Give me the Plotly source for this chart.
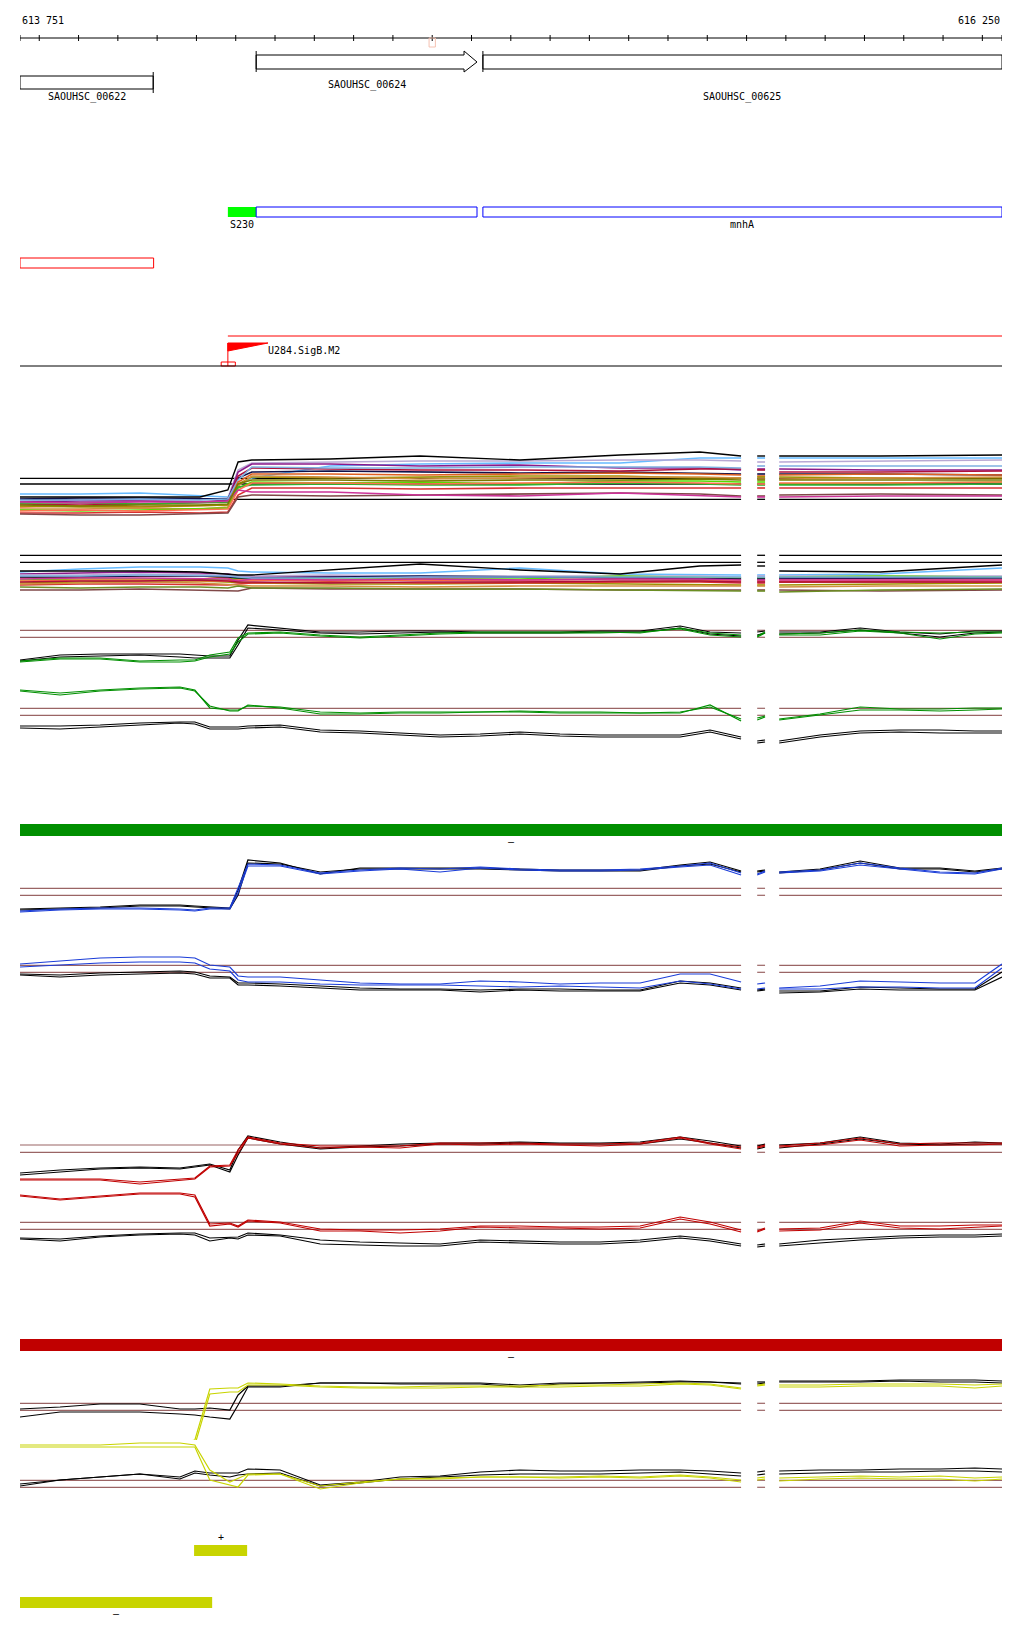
import plotly.graph_objects as go

N = None
W, H = 1024, 1640
VIEW = [613751, 616250]

# ---------------- annotation tracks (genome coordinates) ----------------
RULER_TICKS = [613751] + list(range(613800, 616201, 100)) + [616250]
RULER_MARK = [614792, 614808]
COORD_LABELS = ["613 751", "616 250"]

GENE_NAMES = ["SAOUHSC_00622", "SAOUHSC_00624", "SAOUHSC_00625"]
GENE_START = [613751, 614352, 614929]
GENE_END = [614090, 614914, 616250]
ARROW_HEAD_START = 614881

TX_NAMES = ["S230", "", "mnhA"]
TX_START = [614280, 614352, 614929]
TX_END = [614352, 614914, 616250]

REGION_START = [613751]
REGION_END = [614091]

PROMOTER_NAME = "U284.SigB.M2"
PROMOTER_POS = 614280
PROMOTER_FLAG_END = 614382
PROMOTER_SPAN_END = 616250
PROMOTER_BOX = [614263, 614299]

BAR_START = [613751, 613751, 614194, 613751]
BAR_END = [616250, 616250, 614329, 614240]
BAR_STRAND = ["–", "–", "+", "–"]

# ---------------- expression profiles ----------------
GRID_M = [613751, 613904, 614056, 614209, 614280, 614306, 614341, 614540, 614769, 615023,
          615278, 615481, 615586, 615606, 615627, 615647, 615665, 615683, 615940, 616250]
GRID_D = [613751, 613853, 613955, 614056, 614158, 614196, 614234, 614285, 614306, 614331,
          614413, 614515, 614616, 614718, 614820, 614922, 615023, 615125, 615227, 615329,
          615431, 615507, 615586, 615606, 615627, 615647, 615665, 615683, 615787, 615889,
          615990, 616092, 616181, 616250]
GAPS = [615606, 615665]

# section 1 (many conditions)
S1_COLORS = ["#000000", "#66bbff", "#b8a8d4", "#8b1a8b", "#101048", "#b0103a", "#7fb0e0",
             "#e06020", "#a09000", "#d09040", "#55dd00", "#30b030", "#d83030", "#ff7050",
             "#804848", "#cc3399", "#7a7a00"]
S1_SERIES = [
    [23, 23, 23, 23, 30, 58, 60, 61, 64, 60, 65, 68, 64, N, 64, 64, N, 64, 64, 65],
    [26, 26, 27, 24, 23, 35, 42, 54, 56, 57, 57, 62, 62, N, 62, 62, N, 62, 62, 62],
    [19, 20, 19, 20, 22, 50, 57, 58, 59, 59, 60, 60, 59, N, 58, 58, N, 58, 59, 60],
    [18, 19, 19, 18, 20, 48, 56, 56, 54, 55, 52, 52, 50, N, 51, 51, N, 51, 50, 50],
    [21, 22, 22, 21, 21, 42, 48, 49, 48, 47, 48, 47, 46, N, 46, 46, N, 46, 46, 45],
    [16, 15, 16, 17, 18, 44, 52, 51, 50, 50, 49, 51, 51, N, 50, 50, N, 48, 48, 49],
    [20, 20, 21, 20, 21, 40, 53, 52, 52, 53, 53, 53, 52, N, 54, 54, N, 54, 54, 54],
    [13, 14, 13, 14, 15, 38, 46, 46, 45, 46, 47, 46, 45, N, 44, 44, N, 45, 46, 45],
    [14, 13, 13, 14, 15, 36, 43, 42, 43, 44, 44, 42, 42, N, 43, 43, N, 43, 42, 42],
    [11, 11, 12, 11, 13, 34, 44, 43, 41, 42, 43, 43, 42, N, 41, 41, N, 41, 42, 43],
    [10, 9, 10, 11, 12, 32, 38, 37, 38, 36, 39, 39, 38, N, 38, 38, N, 36, 37, 38],
    [17, 17, 16, 17, 18, 33, 35, 36, 35, 35, 37, 36, 35, N, 35, 35, N, 35, 35, 36],
    [7, 7, 8, 7, 8, 25, 32, 32, 31, 32, 32, 32, 32, N, 32, 32, N, 32, 32, 32],
    [9, 10, 9, 10, 11, 30, 37, 37, 36, 37, 38, 37, 36, N, 36, 36, N, 37, 37, 38],
    [6, 5, 5, 6, 7, 23, 25, 24, 25, 26, 27, 26, 24, N, 24, 24, N, 25, 26, 25],
    [18, 17, 18, 18, 19, 30, 28, 28, 25, 24, 27, 24, 23, N, 23, 23, N, 23, 24, 24],
    [15, 14, 15, 15, 16, 36, 40, 40, 39, 40, 40, 41, 40, N, 40, 40, N, 40, 40, 40],
]
S1_REFS = [41.7, 36, 20.7]

# section 2
S2_COLORS = ["#000000", "#66bbff", "#8b1a8b", "#b8a8d4", "#e06020", "#a09000", "#55dd00",
             "#d83030", "#ff7050", "#101048", "#d09040", "#804848", "#6b8e23", "#cc3399",
             "#7fb0e0", "#b0103a"]
S2_SERIES = [
    [29, 29, 29, 28, 26, 25, 25, 30, 36, 30, 26, 34, 35, N, 34, 34, N, 29, 28, 35],
    [28, 31, 33, 33, 32, 29, 28, 27, 27, 32, 26, 25, 25, N, 25, 25, N, 25, 26, 32],
    [26, 27, 28, 27, 26, 24, 23, 23, 22, 23, 23, 22, 22, N, 22, 22, N, 21, 22, 23],
    [25, 25, 26, 25, 25, 24, 24, 25, 24, 24, 24, 24, 23, N, 24, 24, N, 24, 24, 24],
    [22, 23, 24, 24, 22, 20, 20, 19, 20, 19, 18, 19, 19, N, 19, 19, N, 18, 19, 20],
    [17, 18, 19, 19, 18, 18, 17, 16, 16, 17, 16, 15, 15, N, 15, 15, N, 15, 16, 17],
    [20, 21, 21, 20, 20, 22, 21, 21, 21, 21, 24, 23, 22, N, 22, 22, N, 23, 24, 23],
    [15, 16, 16, 15, 15, 16, 17, 18, 17, 17, 18, 18, 17, N, 17, 17, N, 18, 18, 18],
    [19, 20, 20, 19, 19, 20, 20, 20, 20, 20, 21, 20, 20, N, 20, 20, N, 20, 20, 20],
    [23, 23, 24, 24, 23, 22, 22, 23, 24, 23, 22, 21, 21, N, 21, 21, N, 22, 22, 22],
    [16, 17, 18, 17, 16, 15, 14, 14, 13, 14, 14, 14, 14, N, 14, 14, N, 13, 14, 14],
    [10, 10, 11, 10, 9, 9, 12, 11, 11, 11, 10, 10, 10, N, 10, 10, N, 10, 9, 10],
    [13, 12, 13, 13, 12, 14, 12, 12, 11, 11, 10, 9, 9, N, 9, 9, N, 8, 10, 11],
    [21, 22, 22, 21, 21, 19, 21, 20, 21, 20, 21, 21, 20, N, 20, 20, N, 20, 20, 20],
    [24, 24, 25, 24, 24, 23, 22, 22, 23, 23, 23, 23, 23, N, 23, 23, N, 23, 23, 23],
    [18, 19, 19, 20, 19, 18, 18, 17, 18, 18, 19, 19, 18, N, 18, 18, N, 18, 18, 18],
]
S2_REFS = [44.7, 37.7]

# green condition
GA_BLACK1 = [10, 15, 16, 16, 16, 15, 14, 14, 30, 45, 42, 38, 38, 39, 39, 38, 38, 38, 39, 39, 44, 38, 37, N, 38, 39, N, 38, 38, 42, 38, 36, 39, 39]
GA_BLACK2 = [9, 13, 14, 15, 13, 12, 12, 12, 25, 42, 40, 37, 36, 37, 38, 37, 37, 37, 38, 38, 42, 36, 34, N, 35, 37, N, 36, 37, 40, 37, 33, 37, 38]
GA_COL1 = [9, 12, 12, 9, 10, 10, 15, 18, 32, 37, 38, 35, 33, 35, 37, 38, 38, 38, 38, 37, 42, 37, 35, N, 34, 38, N, 36, 37, 40, 38, 37, 38, 38]
GA_COL2 = [8, 11, 11, 8, 8, 9, 13, 16, 28, 36, 37, 34, 32, 34, 36, 37, 37, 37, 37, 38, 41, 35, 33, N, 33, 37, N, 35, 35, 39, 37, 31, 36, 37]
GA_REFS = [39.7, 32.7]
GB_BLACK1 = [19, 19, 20, 22, 23, 23, 18, 18, 18, 19, 20, 15, 14, 12, 10, 11, 13, 11, 10, 10, 10, 15, 8, N, 4, 5, N, 4, 10, 14, 15, 15, 14, 14]
GB_BLACK2 = [17, 16, 18, 20, 22, 21, 16, 16, 16, 17, 18, 13, 12, 10, 8, 9, 11, 9, 8, 8, 8, 13, 6, N, 2, 3, N, 2, 8, 12, 13, 12, 12, 12]
GB_COL1 = [55, 52, 55, 57, 58, 55, 37, 35, 35, 39, 38, 33, 32, 33, 33, 33, 34, 33, 33, 32, 33, 38, 26, N, 27, 29, N, 26, 31, 38, 36, 36, 37, 37]
GB_COL2 = [54, 50, 54, 56, 57, 54, 39, 34, 34, 40, 37, 31, 31, 32, 32, 33, 33, 32, 32, 32, 32, 40, 24, N, 25, 28, N, 25, 30, 35, 35, 34, 35, 36]
GB_REFS = [36.7, 29.7]

# blue condition
BA_BLACK1 = [11, 12, 13, 15, 15, 14, 13, 12, 30, 60, 57, 46, 52, 52, 52, 52, 51, 50, 50, 50, 55, 58, 49, N, 49, 50, N, 48, 51, 59, 52, 52, 49, 52]
BA_BLACK2 = [10, 11, 12, 14, 14, 13, 12, 11, 25, 57, 56, 48, 51, 51, 51, 51, 50, 49, 49, 49, 54, 56, 48, N, 48, 49, N, 47, 50, 57, 51, 51, 48, 51]
BA_COL1 = [9, 11, 12, 12, 11, 10, 12, 12, 32, 56, 55, 47, 50, 52, 51, 53, 51, 50, 50, 51, 54, 57, 47, N, 46, 49, N, 48, 50, 57, 52, 48, 47, 52]
BA_COL2 = [8, 10, 11, 11, 10, 9, 11, 11, 27, 54, 54, 46, 49, 51, 48, 52, 50, 49, 49, 50, 53, 55, 45, N, 45, 48, N, 47, 49, 55, 51, 47, 46, 51]
BA_REFS = [31.7, 24.7]
BB_BLACK1 = [26, 25, 27, 28, 29, 28, 24, 23, 17, 17, 16, 14, 12, 11, 11, 10, 11, 11, 10, 10, 19, 17, 12, N, 10, 11, N, 9, 9, 13, 12, 11, 11, 28]
BB_BLACK2 = [25, 23, 25, 26, 27, 26, 22, 22, 15, 15, 14, 12, 10, 10, 10, 8, 10, 9, 9, 9, 17, 15, 10, N, 9, 10, N, 7, 8, 11, 10, 10, 10, 23]
BB_COL1 = [36, 39, 42, 43, 43, 42, 35, 33, 24, 23, 23, 20, 17, 16, 16, 19, 18, 16, 17, 17, 26, 26, 18, N, 16, 17, N, 12, 14, 19, 18, 17, 17, 36]
BB_COL2 = [33, 35, 37, 38, 38, 37, 31, 29, 20, 18, 18, 16, 15, 15, 15, 14, 13, 14, 13, 12, 19, 16, 11, N, 11, 12, N, 11, 11, 13, 13, 12, 12, 32]
BB_REFS = [34.7, 27.7]

# red condition
RA_BLACK1 = [17, 20, 22, 23, 22, 24, 26, 20, 40, 54, 48, 42, 44, 46, 47, 47, 48, 47, 47, 48, 53, 49, 44, N, 44, 46, N, 45, 47, 53, 47, 46, 48, 47]
RA_BLACK2 = [15, 18, 21, 22, 21, 23, 25, 18, 35, 52, 46, 41, 43, 44, 46, 46, 47, 46, 46, 46, 51, 47, 42, N, 41, 43, N, 42, 46, 51, 46, 45, 46, 46]
RA_COL1 = [11, 11, 11, 8, 11, 12, 24, 25, 40, 53, 47, 44, 44, 44, 47, 47, 47, 46, 46, 47, 53, 47, 43, N, 43, 45, N, 44, 47, 52, 46, 47, 47, 47]
RA_COL2 = [10, 10, 10, 6, 10, 11, 23, 24, 37, 52, 46, 42, 43, 42, 46, 45, 46, 45, 44, 46, 52, 46, 41, N, 42, 44, N, 43, 45, 50, 44, 45, 45, 46]
RA_REFS = [45, 37.7]
RB_BLACK1 = [12, 11, 14, 16, 17, 17, 12, 13, 13, 17, 15, 10, 8, 7, 6, 10, 9, 8, 8, 10, 14, 11, 6, N, 5, 6, N, 6, 10, 12, 14, 15, 15, 16]
RB_BLACK2 = [11, 9, 13, 15, 16, 15, 9, 12, 11, 15, 14, 6, 5, 4, 4, 8, 7, 6, 6, 8, 12, 9, 4, N, 3, 4, N, 4, 7, 10, 12, 13, 13, 14]
RB_COL1 = [55, 51, 54, 57, 57, 55, 26, 27, 24, 30, 28, 21, 20, 20, 21, 24, 24, 23, 23, 24, 33, 28, 20, N, 19, 22, N, 21, 22, 29, 24, 24, 25, 25]
RB_COL2 = [54, 50, 53, 56, 56, 53, 24, 26, 23, 29, 27, 19, 19, 17, 19, 23, 22, 22, 21, 22, 31, 26, 18, N, 18, 21, N, 19, 20, 27, 22, 21, 23, 24]
RB_REFS = [27.7, 20.7]

# yellow condition
YA_BLACK1 = [46, 48, 51, 51, 46, 46, 47, 45, 60, 69, 69, 72, 72, 72, 72, 72, 70, 72, 72, 73, 74, 73, 72, N, 73, 73, N, 74, 74, 74, 75, 75, 75, 74]
YA_BLACK2 = [38, 43, 43, 43, 41, 40, 38, 36, 50, 68, 68, 72, 72, 71, 71, 71, 68, 71, 72, 72, 73, 73, 71, N, 71, 72, N, 73, 73, 73, 74, 73, 73, 72]
YA_COL1 = [10, 10, 10, 12, 12, 15, 66, 67, 67, 72, 71, 69, 68, 68, 69, 69, 69, 70, 70, 71, 72, 71, 67, N, 70, 71, N, 70, 70, 71, 71, 71, 70, 71]
YA_COL2 = [8, 8, 8, 8, 8, 10, 61, 63, 63, 70, 70, 68, 67, 67, 67, 68, 68, 68, 69, 69, 71, 70, 66, N, 69, 70, N, 68, 68, 69, 69, 69, 67, 69]
YA_REFS = [51.7, 44.7]
YB_BLACK1 = [16, 20, 23, 26, 23, 29, 27, 27, 27, 31, 30, 15, 18, 23, 24, 28, 30, 29, 29, 30, 30, 29, 27, N, 28, 29, N, 29, 30, 30, 31, 31, 32, 31]
YB_BLACK2 = [14, 20, 23, 26, 21, 27, 25, 23, 25, 26, 27, 14, 17, 21, 23, 25, 26, 26, 26, 27, 28, 26, 24, N, 25, 26, N, 26, 27, 28, 28, 29, 29, 28]
YB_COL1 = [55, 55, 55, 57, 57, 55, 30, 18, 22, 26, 26, 14, 18, 21, 22, 23, 23, 23, 24, 23, 25, 23, 20, N, 22, 23, N, 22, 23, 24, 23, 24, 22, 23]
YB_COL2 = [53, 53, 53, 53, 53, 53, 20, 15, 13, 25, 26, 11, 17, 21, 21, 23, 23, 22, 23, 22, 24, 22, 18, N, 20, 21, N, 19, 21, 22, 21, 21, 19, 21]
YB_REFS = [19.7, 12.7]

# ---------------- styling / layout constants ----------------
FONT = "DejaVu Sans Mono"
BROWN = "#9a6464"
GREEN, BLUE, RED, YELLOW = "#008f00", "#1a3cd8", "#c00000", "#c8d400"

# panel pixel bands (top, bottom)
PANEL_BANDS = {"S1": (440, 520), "S2": (545, 600), "GA": (615, 670), "GB": (680, 745),
               "BA": (850, 920), "BB": (945, 1000), "RA": (1125, 1190), "RB": (1185, 1250),
               "YA": (1370, 1455), "YB": (1440, 1500)}

fig = go.Figure()
layout_axes = {}
axis_of = {}
for i, (name, (top, bot)) in enumerate(PANEL_BANDS.items()):
    idx = i + 2
    axis_of[name] = f"y{idx}"
    layout_axes[f"yaxis{idx}"] = dict(domain=[1 - bot / H, 1 - top / H], range=[0, bot - top],
                                      visible=False, anchor="x", fixedrange=True)


def add_line(panel, grid, vals, color, width=1.2):
    assert len(vals) == len(grid), (panel, len(vals))
    fig.add_trace(go.Scatter(x=grid, y=vals, mode="lines", yaxis=axis_of[panel],
                             line=dict(color=color, width=width), connectgaps=False,
                             hoverinfo="skip"))


def add_refs(panel, grid, refs, color, width=1):
    for r in refs:
        vals = [N if g in GAPS else r for g in grid]
        add_line(panel, grid, vals, color, width)


# multi-condition sections
add_refs("S1", GRID_M, S1_REFS, "#000000", 1.3)
for c, v in list(zip(S1_COLORS, S1_SERIES))[1:]:
    add_line("S1", GRID_M, v, c, 1.6)
add_line("S1", GRID_M, S1_SERIES[0], S1_COLORS[0], 1.4)

add_refs("S2", GRID_M, S2_REFS, "#000000", 1.3)
for c, v in list(zip(S2_COLORS, S2_SERIES))[1:]:
    add_line("S2", GRID_M, v, c, 1.6)
add_line("S2", GRID_M, S2_SERIES[0], S2_COLORS[0], 1.4)

DETAIL = [
    ("GA", GREEN, GA_BLACK1, GA_BLACK2, GA_COL1, GA_COL2, GA_REFS),
    ("GB", GREEN, GB_BLACK1, GB_BLACK2, GB_COL1, GB_COL2, GB_REFS),
    ("BA", BLUE, BA_BLACK1, BA_BLACK2, BA_COL1, BA_COL2, BA_REFS),
    ("BB", BLUE, BB_BLACK1, BB_BLACK2, BB_COL1, BB_COL2, BB_REFS),
    ("RA", RED, RA_BLACK1, RA_BLACK2, RA_COL1, RA_COL2, RA_REFS),
    ("RB", RED, RB_BLACK1, RB_BLACK2, RB_COL1, RB_COL2, RB_REFS),
    ("YA", YELLOW, YA_BLACK1, YA_BLACK2, YA_COL1, YA_COL2, YA_REFS),
    ("YB", YELLOW, YB_BLACK1, YB_BLACK2, YB_COL1, YB_COL2, YB_REFS),
]
for panel, col, b1, b2, c1, c2, refs in DETAIL:
    add_refs(panel, GRID_D, refs, BROWN, 1.2)
    add_line(panel, GRID_D, b1, "#000000")
    add_line(panel, GRID_D, b2, "#000000")
    add_line(panel, GRID_D, c1, col)
    add_line(panel, GRID_D, c2, col)

# ---------------- shapes for annotation tracks ----------------
shapes = []


def seg(x0, y0, x1, y1, color="#000000", width=1):
    shapes.append(dict(type="line", xref="x", yref="y", x0=x0, y0=y0, x1=x1, y1=y1,
                       line=dict(color=color, width=width)))


def box(x0, x1, y0, y1, line="#000000", fill=None, width=1):
    shapes.append(dict(type="rect", xref="x", yref="y", x0=x0, x1=x1, y0=y0, y1=y1,
                       line=dict(color=line if line else "rgba(0,0,0,0)", width=width if line else 0),
                       fillcolor=fill if fill else "rgba(0,0,0,0)"))


# ruler
seg(VIEW[0], 38, VIEW[1], 38)
for t in RULER_TICKS:
    seg(t, 35, t, 41)
box(RULER_MARK[0], RULER_MARK[1], 38, 47, line="#f5c2b2")

# genes
box(GENE_START[0], GENE_END[0], 76, 89)
seg(GENE_END[0], 72, GENE_END[0], 93)
shapes.append(dict(type="path", xref="x", yref="y",
                   path=(f"M {GENE_START[1]} 55 L {ARROW_HEAD_START} 55 L {ARROW_HEAD_START} 51 "
                         f"L {GENE_END[1]} 62 L {ARROW_HEAD_START} 72 L {ARROW_HEAD_START} 69 "
                         f"L {GENE_START[1]} 69 Z"),
                   line=dict(color="#000000", width=1)))
seg(GENE_START[1], 51, GENE_START[1], 72)
box(GENE_START[2], GENE_END[2], 55, 69)
seg(GENE_START[2], 51, GENE_START[2], 72)

# transcripts
box(TX_START[0], TX_END[0], 207, 217, line=None, fill="#00ff00")
box(TX_START[1], TX_END[1], 207, 217, line="#0000ff")
box(TX_START[2], TX_END[2], 207, 217, line="#0000ff")

# region
box(REGION_START[0], REGION_END[0], 258, 268, line="#ff0000")

# promoter
seg(PROMOTER_POS, 336, PROMOTER_SPAN_END, 336, "#ff0000")
shapes.append(dict(type="path", xref="x", yref="y",
                   path=f"M {PROMOTER_POS} 343 L {PROMOTER_FLAG_END} 343 L {PROMOTER_POS} 351 Z",
                   fillcolor="#ff0000", line=dict(color="#ff0000", width=1)))
seg(PROMOTER_POS, 343, PROMOTER_POS, 366, "#ff0000")
box(PROMOTER_BOX[0], PROMOTER_BOX[1], 362, 366, line="#ff0000")
seg(VIEW[0], 366, VIEW[1], 366)

# condition bars
BAR_ROWS = [(824, 836, GREEN), (1339, 1351, RED), (1545, 1556, YELLOW), (1597, 1608, YELLOW)]
for s, e, (y0, y1, col) in zip(BAR_START, BAR_END, BAR_ROWS):
    box(s, e, y0, y1, line=None, fill=col)

# ---------------- text ----------------
ann = []


def text(x, y, s, anchor="center", size=10, xref="x"):
    ann.append(dict(x=x, y=y, xref=xref, yref="y", text=s, showarrow=False,
                    xanchor=anchor, yanchor="middle",
                    font=dict(family=FONT, size=size, color="#000000")))


text(VIEW[0], 20, COORD_LABELS[0], "left")
text(VIEW[1], 20, COORD_LABELS[1], "right")
GENE_LABEL_Y = [97, 85, 97]
for name, s, e, y in zip(GENE_NAMES, GENE_START, GENE_END, GENE_LABEL_Y):
    text((s + e) / 2, y, name)
text(TX_START[0], 224, TX_NAMES[0], "left")
text((TX_START[2] + TX_END[2]) / 2, 224, TX_NAMES[2])
text(PROMOTER_FLAG_END - 4, 350, PROMOTER_NAME, "left")
STRAND_Y = [841, 1356, 1537, 1613]
for s, e, st, y in zip(BAR_START, BAR_END, BAR_STRAND, STRAND_Y):
    text((s + e) / 2, y, st, size=10)

fig.update_layout(
    width=W, height=H, margin=dict(l=0, r=0, t=0, b=0),
    paper_bgcolor="white", plot_bgcolor="white", showlegend=False,
    xaxis=dict(domain=[20 / W, 1002 / W], range=VIEW, visible=False, fixedrange=True),
    yaxis=dict(domain=[0, 1], range=[H, 0], visible=False, fixedrange=True),
    shapes=shapes, annotations=ann, **layout_axes,
)
fig.write_html("out.html", config={"displayModeBar": False, "staticPlot": True},
               post_script="document.body.style.margin='0';document.body.style.overflow='hidden';")
